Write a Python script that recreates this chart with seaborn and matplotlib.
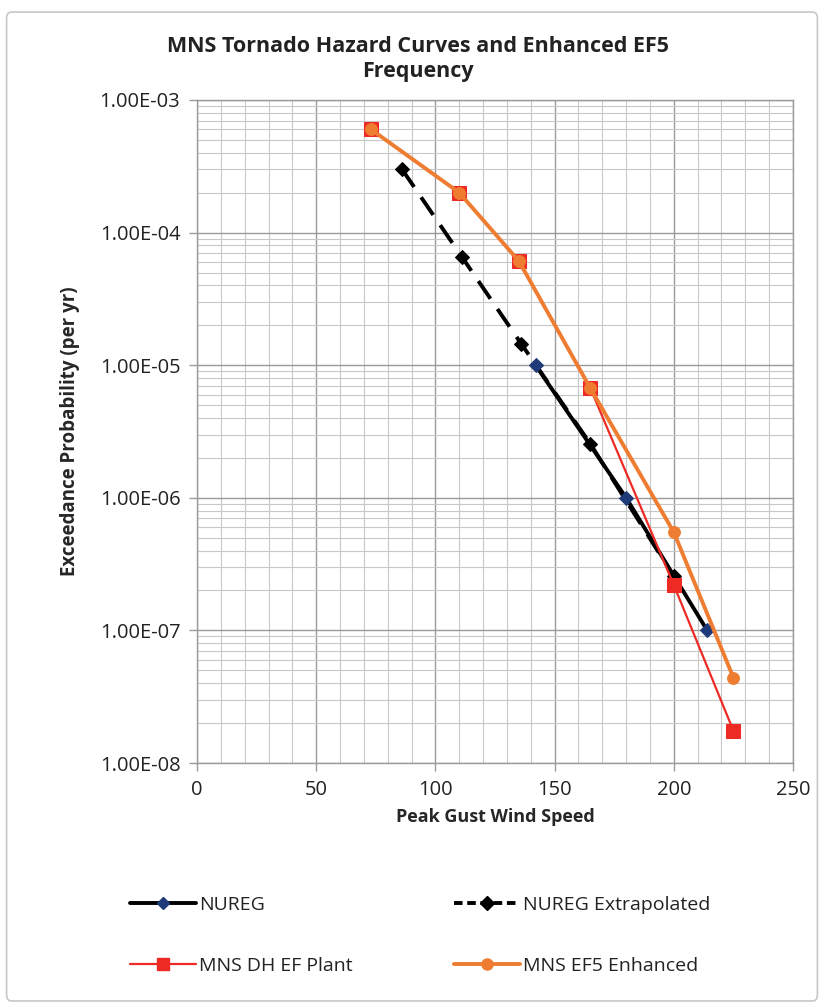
import seaborn as sns
import matplotlib.pyplot as plt
import matplotlib.ticker as mticker
from matplotlib.patches import FancyBboxPatch
from matplotlib.lines import Line2D

# data
nureg_speed = [142, 180, 214]
nureg_prob = [1.0e-5, 1.0e-6, 1.0e-7]

extrap_speed = [86, 111, 136, 165, 200]
extrap_prob = [3.0e-4, 6.6e-5, 1.45e-5, 2.55e-6, 2.55e-7]

plant_speed = [73, 110, 135, 165, 200, 225]
plant_prob = [6.0e-4, 2.0e-4, 6.1e-5, 6.7e-6, 2.2e-7, 1.75e-8]

ef5_speed = [73, 110, 135, 165, 200, 225]
ef5_prob = [6.0e-4, 2.0e-4, 6.1e-5, 6.7e-6, 5.5e-7, 4.4e-8]

sns.set_style("white")
plt.rcParams['font.family'] = ['Open Sans', 'DejaVu Sans']

fig = plt.figure(figsize=(8.24, 10.07), dpi=100)
ax = fig.add_axes([0.2391, 0.2423, 0.7233, 0.6584])

# light chart-area frame like Excel
frame = FancyBboxPatch((0.008, 0.006), 0.984, 0.982, boxstyle="round,pad=0,rounding_size=0.006",
                       transform=fig.transFigure, facecolor="white", edgecolor="#c8c8c8",
                       linewidth=1.2, zorder=-10)
fig.patches.append(frame)

sns.lineplot(x=extrap_speed, y=extrap_prob, ax=ax, color="black", linewidth=2.8,
             linestyle=(0, (5.5, 3.2)), marker="D", markersize=7, markeredgecolor="black",
             zorder=3)
sns.lineplot(x=nureg_speed, y=nureg_prob, ax=ax, color="black", linewidth=2.8,
             marker="D", markersize=7, markerfacecolor="#1f3a78", markeredgecolor="#1f3a78",
             zorder=4)
sns.lineplot(x=plant_speed, y=plant_prob, ax=ax, color="#ee2a24", linewidth=1.6,
             marker="s", markersize=9.5, markeredgecolor="#ee2a24", zorder=5)
sns.lineplot(x=ef5_speed, y=ef5_prob, ax=ax, color="#ee7d31", linewidth=2.8,
             marker="o", markersize=8.5, markeredgecolor="#ee7d31", zorder=6)

ax.set_yscale("log")
ax.set_xlim(0, 250)
ax.set_ylim(1e-8, 1e-3)
ax.xaxis.set_major_locator(mticker.MultipleLocator(50))
ax.xaxis.set_minor_locator(mticker.MultipleLocator(10))
ax.yaxis.set_major_locator(mticker.LogLocator(base=10, numticks=10))
ax.yaxis.set_minor_locator(mticker.LogLocator(base=10, subs=range(2, 10), numticks=20))
ax.yaxis.set_major_formatter(mticker.FuncFormatter(lambda v, p: f"{v:.2E}"))
ax.yaxis.set_minor_formatter(mticker.NullFormatter())

ax.grid(which="major", color="#9a9a9a", linewidth=1.0)
ax.grid(which="minor", color="#c8c8c8", linewidth=0.8)
for s in ax.spines.values():
    s.set_color("#9a9a9a")
    s.set_linewidth(1.0)
ax.tick_params(which="major", direction="out", length=6, color="#9a9a9a", width=1,
               labelsize=14.5, pad=6, bottom=True, left=True, labelcolor="#222222")
ax.tick_params(which="minor", length=0)

ax.set_xlabel("Peak Gust Wind Speed", fontsize=13, fontweight="bold", labelpad=6)
ax.set_ylabel("Exceedance Probability (per yr)", fontsize=13.5, fontweight="bold", labelpad=14)
fig.text(0.507, 0.941, "MNS Tornado Hazard Curves and Enhanced EF5\nFrequency",
         ha="center", va="center", fontsize=15.5, fontweight="bold", linespacing=1.25,
         color="#222222")

h = [
    Line2D([], [], color="black", linewidth=2.8, marker="D", markersize=6,
           markerfacecolor="#1f3a78", markeredgecolor="#1f3a78"),
    Line2D([], [], color="#ee2a24", linewidth=1.6, marker="s", markersize=9),
    Line2D([], [], color="black", linewidth=2.8, linestyle=(0, (2.2, 1.2)), marker="D",
           markersize=7),
    Line2D([], [], color="#ee7d31", linewidth=2.8, marker="o", markersize=8),
]
l = ["NUREG", "MNS DH EF Plant", "NUREG Extrapolated", "MNS EF5 Enhanced"]
fig.legend(h, l, ncol=2, loc="center", bbox_to_anchor=(0.51, 0.071), frameon=False,
           fontsize=14, handlelength=3.4, handletextpad=0.15, labelspacing=2.2,
           columnspacing=5.2, labelcolor="#222222")

fig.savefig("out.png", dpi=100)
